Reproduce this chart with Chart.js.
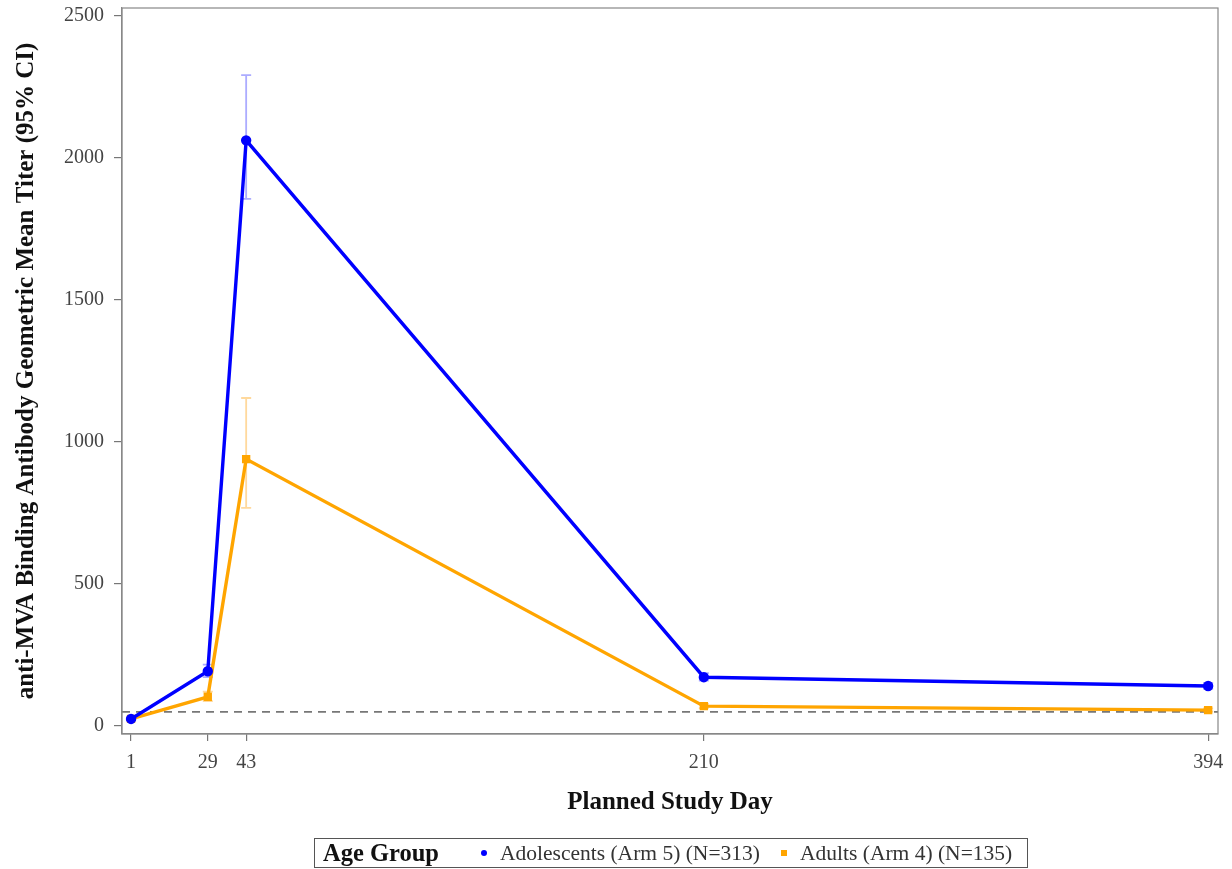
<!DOCTYPE html>
<html>
<head>
<meta charset="utf-8">
<script src="https://cdn.jsdelivr.net/npm/chart.js@4.4.1/dist/chart.umd.min.js"></script>
<style>
  html, body { margin: 0; padding: 0; background: #fff; }
  #wrap { position: relative; width: 1232px; height: 869px; }
  #legend {
    position: absolute; left: 314px; top: 838px; width: 712px; height: 28px;
    border: 1px solid #555;
    font-family: "Liberation Serif", "Times New Roman", serif; color: #333;
  }
  #legend span { position: absolute; white-space: nowrap; line-height: 28px; top: 0; }
  #legend .title { font-weight: bold; font-size: 24.5px; left: 8px; color: #111; }
  #legend .txt { font-size: 21.5px; }
  #legend .dot { width: 6px; height: 6px; border-radius: 50%; background: #0000ff; top: 11px; }
  #legend .sq { width: 6px; height: 6px; background: #ffa500; top: 11px; }
</style>
</head>
<body>
<div id="wrap">
  <canvas id="c" width="1232" height="869"></canvas>
  <div id="legend">
    <span class="title">Age Group</span>
    <span class="dot" style="left:166px"></span>
    <span class="txt" style="left:185px">Adolescents (Arm 5) (N=313)</span>
    <span class="sq" style="left:466px"></span>
    <span class="txt" style="left:485px">Adults (Arm 4) (N=135)</span>
  </div>
</div>
<script>
// Planned study days
const studyDays = [1, 29, 43, 210, 394];
const xTickValues = [1, 29, 43, 210, 394];
const yTickValues = [0, 500, 1000, 1500, 2000, 2500];

// Adolescents (Arm 5): GMT with 95% CI
const adolGMT   = [25, 193, 2062, 172, 141];
const adolLower = [22, 172, 1856, 160, 131];
const adolUpper = [29, 216, 2292, 186, 152];

// Adults (Arm 4): GMT with 95% CI
const adultGMT   = [25, 103, 940, 70, 56];
const adultLower = [21, 88, 768, 63, 51];
const adultUpper = [30, 121, 1155, 78, 62];

// Lower limit of quantification reference line
const lloq = 50;

const SERIF = '"Liberation Serif", "Times New Roman", serif';

const toPoints = (xs, ys) => xs.map((x, i) => ({ x, y: ys[i] }));

// Error bars, reference line and plot frame
const extras = {
  id: 'extras',
  beforeDatasetsDraw(chart) {
    const { ctx, chartArea: a, scales: { x, y } } = chart;
    ctx.save();
    // dashed reference line
    ctx.strokeStyle = '#777';
    ctx.lineWidth = 1.6;
    ctx.setLineDash([8, 6]);
    const yl = y.getPixelForValue(lloq);
    ctx.beginPath(); ctx.moveTo(a.left, yl); ctx.lineTo(a.right, yl); ctx.stroke();
    ctx.setLineDash([]);
    // confidence interval whiskers
    const bars = [
      { lo: adolLower, hi: adolUpper, color: 'rgba(90,90,255,0.5)' },
      { lo: adultLower, hi: adultUpper, color: 'rgba(255,180,60,0.5)' }
    ];
    bars.forEach(b => {
      ctx.strokeStyle = b.color;
      ctx.lineWidth = 1.8;
      studyDays.forEach((d, i) => {
        const px = x.getPixelForValue(d);
        const p1 = y.getPixelForValue(b.lo[i]);
        const p2 = y.getPixelForValue(b.hi[i]);
        ctx.beginPath();
        ctx.moveTo(px, p1); ctx.lineTo(px, p2);
        ctx.moveTo(px - 5, p1); ctx.lineTo(px + 5, p1);
        ctx.moveTo(px - 5, p2); ctx.lineTo(px + 5, p2);
        ctx.stroke();
      });
    });
    ctx.restore();
  },
  afterDraw(chart) {
    const { ctx, chartArea: a } = chart;
    ctx.save();
    ctx.strokeStyle = '#888';
    ctx.lineWidth = 1.2;
    ctx.strokeRect(a.left, a.top, a.right - a.left, a.bottom - a.top);
    ctx.restore();
  }
};

new Chart(document.getElementById('c'), {
  type: 'line',
  data: {
    datasets: [
      {
        label: 'Adolescents (Arm 5) (N=313)',
        data: toPoints(studyDays, adolGMT),
        borderColor: '#0000ff',
        backgroundColor: '#0000ff',
        borderWidth: 3.4,
        pointStyle: 'circle',
        pointRadius: 3.5,
        tension: 0
      },
      {
        label: 'Adults (Arm 4) (N=135)',
        data: toPoints(studyDays, adultGMT),
        borderColor: '#ffa500',
        backgroundColor: '#ffa500',
        borderWidth: 3.4,
        pointStyle: 'rect',
        pointRadius: 3.5,
        tension: 0
      }
    ]
  },
  options: {
    responsive: false,
    animation: false,
    layout: { padding: { left: 12, top: 8, right: 14, bottom: 51 } },
    plugins: { legend: { display: false }, tooltip: { enabled: false } },
    scales: {
      x: {
        type: 'linear',
        min: -2.3,
        max: 397.6,
        afterBuildTicks: s => { s.ticks = xTickValues.map(v => ({ value: v })); },
        afterFit: s => { s.height = 84; s.paddingLeft = 0; s.paddingRight = 0; },
        grid: { display: true, drawOnChartArea: false, drawTicks: true, tickLength: 7, color: '#777', lineWidth: 1.2 },
        border: { display: true, color: '#888', width: 1.2 },
        ticks: {
          font: { family: SERIF, size: 20 }, color: '#444', padding: 10, maxRotation: 0, autoSkip: false,
          callback: v => String(v)
        },
        title: {
          display: true, text: 'Planned Study Day',
          font: { family: SERIF, size: 25, weight: 'bold' }, color: '#111',
          padding: { top: 0, bottom: 0 }
        }
      },
      y: {
        type: 'linear',
        min: -28,
        max: 2528,
        afterBuildTicks: s => { s.ticks = yTickValues.map(v => ({ value: v })); },
        afterFit: s => { s.width = 110; s.paddingTop = 0; s.paddingBottom = 0; },
        grid: { display: true, drawOnChartArea: false, drawTicks: true, tickLength: 8, color: '#777', lineWidth: 1.2 },
        border: { display: true, color: '#888', width: 1.2 },
        ticks: {
          font: { family: SERIF, size: 20 }, color: '#444', padding: 10,
          callback: v => String(v)
        },
        title: {
          display: true, text: 'anti-MVA Binding Antibody Geometric Mean Titer (95% CI)',
          font: { family: SERIF, size: 25, weight: 'bold' }, color: '#111',
          padding: { top: 0, bottom: 0 }
        }
      }
    }
  },
  plugins: [extras]
});
</script>
</body>
</html>
